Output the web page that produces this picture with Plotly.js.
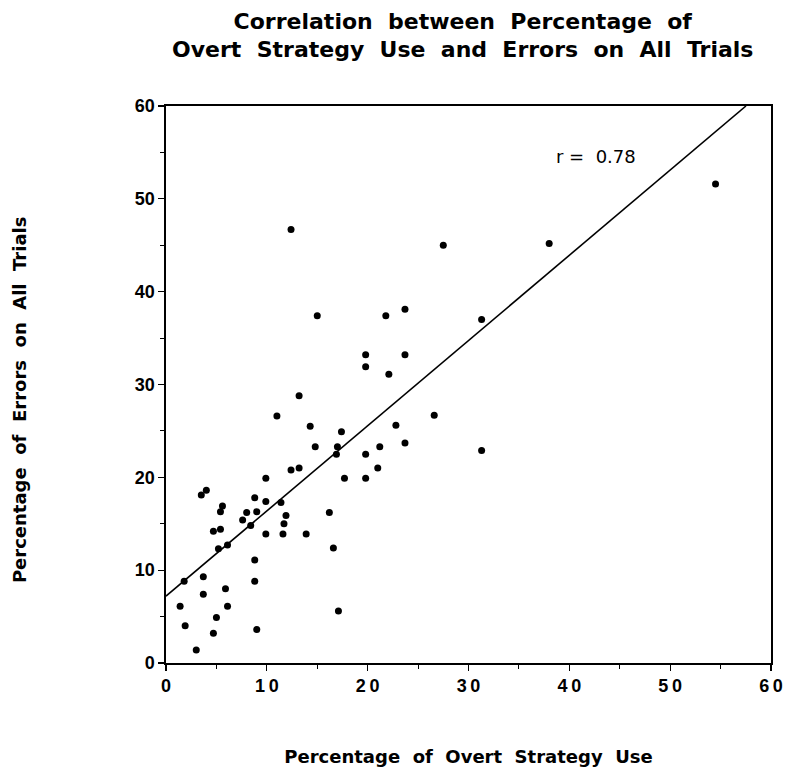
<!DOCTYPE html>
<html>
<head>
<meta charset="utf-8">
<script src="https://cdn.plot.ly/plotly-3.0.1.min.js"></script>
<style>html,body{margin:0;padding:0;background:#fff;}#chart{width:787px;height:771px;}</style>
</head>
<body>
<div id="chart"></div>
<script>
// Percentage of overt strategy use (x) vs percentage of errors on all trials (y)
const strategyUse = [54.5, 12.4, 27.5, 38.0, 15.0, 21.8, 23.7, 31.3, 19.8, 23.7,
  19.8, 22.1, 13.2, 11.0, 26.6, 14.3, 22.8, 17.4, 14.8, 17.0,
  16.9, 21.2, 23.7, 31.3, 19.8, 12.4, 13.2, 21.0, 9.9, 17.7,
  19.8, 3.5, 4.0, 5.6, 5.4, 8.8, 9.9, 11.4, 8.0, 9.0,
  7.6, 11.9, 8.4, 11.7, 16.2, 4.7, 5.4, 9.9, 11.6, 13.9,
  5.2, 6.1, 16.6, 8.8, 1.8, 3.7, 8.8, 3.7, 5.9, 1.4,
  6.1, 17.1, 5.0, 1.9, 4.7, 9.0, 3.0];
const errorsAll = [51.6, 46.7, 45.0, 45.2, 37.4, 37.4, 38.1, 37.0, 33.2, 33.2,
  31.9, 31.1, 28.8, 26.6, 26.7, 25.5, 25.6, 24.9, 23.3, 23.3,
  22.5, 23.3, 23.7, 22.9, 22.5, 20.8, 21.0, 21.0, 19.9, 19.9,
  19.9, 18.1, 18.6, 16.9, 16.3, 17.8, 17.4, 17.3, 16.2, 16.3,
  15.4, 15.9, 14.8, 15.0, 16.2, 14.2, 14.4, 13.9, 13.9, 13.9,
  12.3, 12.7, 12.4, 11.1, 8.8, 9.3, 8.8, 7.4, 8.0, 6.1,
  6.1, 5.6, 4.9, 4.0, 3.2, 3.6, 1.4];
// Regression line as drawn: intercept and slope
const fitIntercept = 7.2;
const fitSlope = 0.918;
const rLabel = 'r =  0.78';

const xTicks = [0, 10, 20, 30, 40, 50, 60];
const yTicks = [0, 10, 20, 30, 40, 50, 60];

const fitX = [0, (60 - fitIntercept) / fitSlope];
const fitY = fitX.map(v => fitIntercept + fitSlope * v);

const font = 'Liberation Sans, Arial, Helvetica, sans-serif';
const wide = 'DejaVu Sans, Liberation Sans, Arial, sans-serif';
const spaced = s => String(s).split('').join('\u2009');

const traces = [
  {
    x: fitX, y: fitY, mode: 'lines', type: 'scatter',
    line: {color: '#000', width: 1.6}, hoverinfo: 'skip', showlegend: false
  },
  {
    x: strategyUse, y: errorsAll, mode: 'markers', type: 'scatter',
    marker: {color: '#000', size: 7}, showlegend: false
  }
];

const layout = {
  width: 787, height: 771,
  paper_bgcolor: '#fff', plot_bgcolor: '#fff',
  margin: {l: 166, r: 16, t: 106, b: 108},
  showlegend: false,
  title: {
    text: 'Correlation  between  Percentage  of<br>Overt  Strategy  Use  and  Errors  on  All  Trials',
    font: {family: wide, size: 22, color: '#000', weight: 'bold'},
    x: 0.588, xanchor: 'center', yref: 'container', y: 0.963, yanchor: 'middle'
  },
  xaxis: {
    range: [0, 60], tickvals: xTicks, ticktext: xTicks.map(spaced),
    ticks: 'outside', ticklen: 6, tickwidth: 1.3, tickcolor: '#000',
    minor: {dtick: 5, ticks: 'outside', ticklen: 4, tickcolor: '#000', tickwidth: 1},
    showgrid: false, zeroline: false,
    showline: true, linecolor: '#000', linewidth: 1.6, mirror: true,
    tickfont: {family: font, size: 18, color: '#000', weight: 'bold'},
    title: {text: 'Percentage  of  Overt  Strategy  Use', font: {family: wide, size: 18, color: '#000', weight: 'bold'}, standoff: 55}
  },
  yaxis: {
    range: [0, 60], tickvals: yTicks, ticktext: yTicks.map(String),
    ticks: 'outside', ticklen: 6, tickwidth: 1.3, tickcolor: '#000',
    minor: {dtick: 5, ticks: 'outside', ticklen: 4, tickcolor: '#000', tickwidth: 1},
    showgrid: false, zeroline: false,
    showline: true, linecolor: '#000', linewidth: 1.6, mirror: true,
    tickfont: {family: font, size: 18, color: '#000', weight: 'bold'}
  },
  annotations: [
    {
      x: 42.6, y: 54.6, xref: 'x', yref: 'y', text: rLabel, showarrow: false,
      font: {family: wide, size: 18, color: '#000'}, xanchor: 'center', yanchor: 'middle'
    },
    {
      x: 0, y: 0.472, xref: 'paper', yref: 'paper', xshift: -147,
      text: 'Percentage  of  Errors  on  All  Trials', textangle: -90, showarrow: false,
      font: {family: wide, size: 18, color: '#000', weight: 'bold'}, xanchor: 'center', yanchor: 'middle'
    }
  ]
};

Plotly.newPlot('chart', traces, layout, {displayModeBar: false, staticPlot: true});
</script>
</body>
</html>
